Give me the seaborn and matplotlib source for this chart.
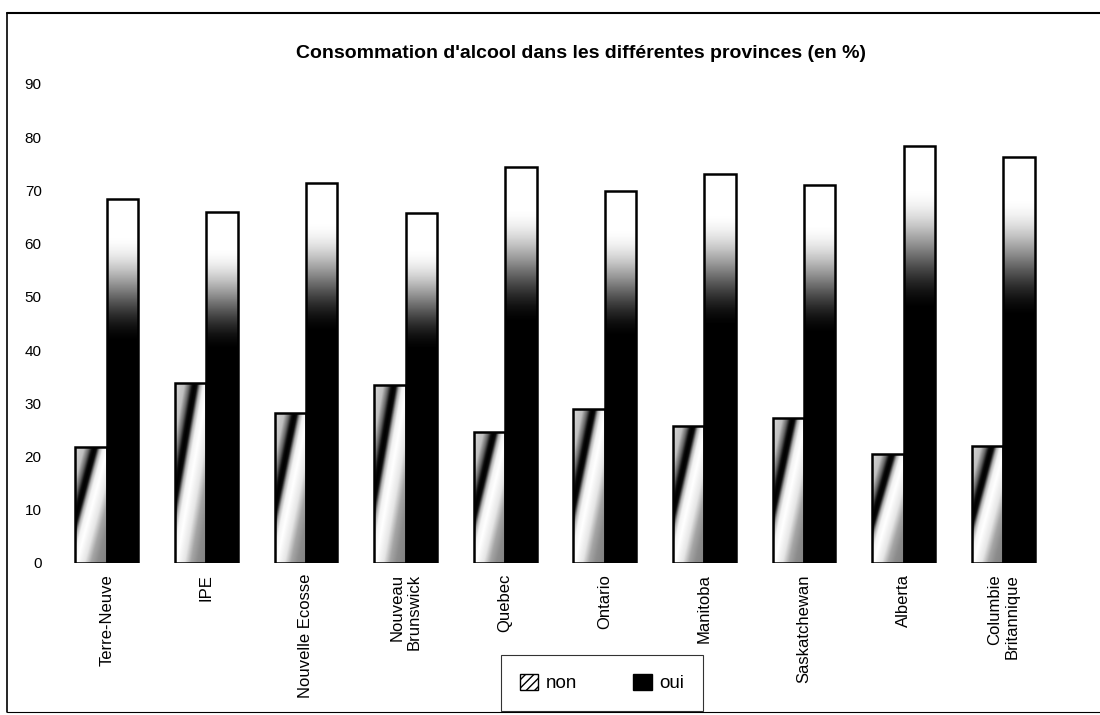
import numpy as np
import pandas as pd
import matplotlib
matplotlib.use("Agg")
import matplotlib.pyplot as plt
from matplotlib.patches import Patch
from matplotlib.lines import Line2D
import seaborn as sns

provinces = ["Terre-Neuve", "IPE", "Nouvelle Ecosse", "Nouveau\nBrunswick", "Quebec",
             "Ontario", "Manitoba", "Saskatchewan", "Alberta", "Columbie\nBritannique"]
non = [21.8, 33.8, 28.2, 33.5, 24.6, 28.9, 25.8, 27.3, 20.4, 22.0]
oui = [68.4, 66.0, 71.4, 65.8, 74.4, 69.9, 73.1, 71.0, 78.4, 76.3]
series = ["non", "oui"]
yticks = [0, 10, 20, 30, 40, 50, 60, 70, 80, 90]
title = "Consommation d'alcool dans les différentes provinces (en %)"

df = pd.DataFrame({
    "province": provinces * 2,
    "valeur": non + oui,
    "serie": ["non"] * len(provinces) + ["oui"] * len(provinces),
})

sns.set_theme(style="white")
plt.rcParams["font.family"] = ["Liberation Sans", "DejaVu Sans"]
plt.rcParams["text.color"] = "black"
plt.rcParams["xtick.color"] = "black"
plt.rcParams["ytick.color"] = "black"

fig = plt.figure(figsize=(11, 7.15), dpi=100)
ax = fig.add_axes([57 / 1100, (715 - 563) / 715, 996 / 1100, (563 - 84) / 715])

sns.barplot(data=df, x="province", y="valeur", hue="serie", hue_order=series,
            order=provinces, palette=["white", "black"], width=0.63, gap=0,
            edgecolor="black", linewidth=1.8, legend=False, ax=ax)

# diagonal gradient profile for "non" bars (s = u - v across the bar)
s_pts = [-1.0, -0.7, -0.55, -0.45, -0.38, -0.3, -0.2, -0.1, 0.05, 0.3, 0.5, 0.7, 1.0]
g_pts = [0.85, 0.75, 0.4, 0.05, 0.0, 0.05, 0.7, 0.95, 1.0, 0.9, 0.65, 0.55, 0.5]

bars = list(ax.patches)
n = len(provinces)
for i, p in enumerate(bars):
    x0, y0 = p.get_x(), p.get_y()
    w, h = p.get_width(), p.get_height()
    ny, nx = 240, 80
    u = np.linspace(0, 1, nx)[None, :]
    v = np.linspace(0, 1, ny)[:, None]
    if i < n:
        s = u - v
        g = np.interp(s, s_pts, g_pts)
    else:
        t = np.clip((v - 0.6) / 0.3, 0, 1)
        g = t * t * (3 - 2 * t) * np.ones_like(u)
    im = ax.imshow(g, cmap="gray", vmin=0, vmax=1, origin="lower", aspect="auto",
                   extent=(x0, x0 + w, y0, y0 + h), interpolation="bilinear", zorder=1)
    im.set_clip_path(p)
    p.set_facecolor("none")
    p.set_zorder(2)

ax.set_xlim(-0.5, n - 0.5)
ax.set_ylim(0, 90)
ax.set_yticks(yticks)
ax.set_yticklabels([str(t) for t in yticks], fontsize=11)
ax.set_xlabel("")
ax.set_ylabel("")
for s in ax.spines.values():
    s.set_visible(False)
ax.tick_params(axis="y", length=0, pad=11)
ax.tick_params(axis="x", length=0, pad=8)
ax.set_xticks(range(n))
ax.set_xticklabels(provinces, rotation=90, fontsize=12, va="top", ha="center",
                   multialignment="right")
ax.grid(False)

fig.text(581 / 1100, (715 - 53) / 715, title, ha="center", va="center",
         fontsize=14, fontweight="bold")

handles = [Patch(facecolor="white", edgecolor="black", hatch="////", linewidth=1),
           Patch(facecolor="black", edgecolor="black", linewidth=1)]
leg = fig.legend(handles, series, loc="center", ncol=2,
                 bbox_to_anchor=(602 / 1100, (715 - 683) / 715),
                 frameon=True, fancybox=False, edgecolor="black", fontsize=13.5,
                 handlelength=1.0, handleheight=1.0, handletextpad=0.4,
                 columnspacing=3.0, borderpad=1.0)
leg.get_frame().set_linewidth(0.8)

# outer chart border
fig.add_artist(Line2D([7 / 1100, 7 / 1100], [(715 - 13) / 715, (715 - 712) / 715],
                      color="black", lw=1.2, transform=fig.transFigure))
fig.add_artist(Line2D([7 / 1100, 1.0], [(715 - 13) / 715, (715 - 13) / 715],
                      color="black", lw=1.5, transform=fig.transFigure))
fig.add_artist(Line2D([7 / 1100, 1.0], [(715 - 712) / 715, (715 - 712) / 715],
                      color="black", lw=0.8, transform=fig.transFigure))

fig.savefig("out.png", dpi=100)
